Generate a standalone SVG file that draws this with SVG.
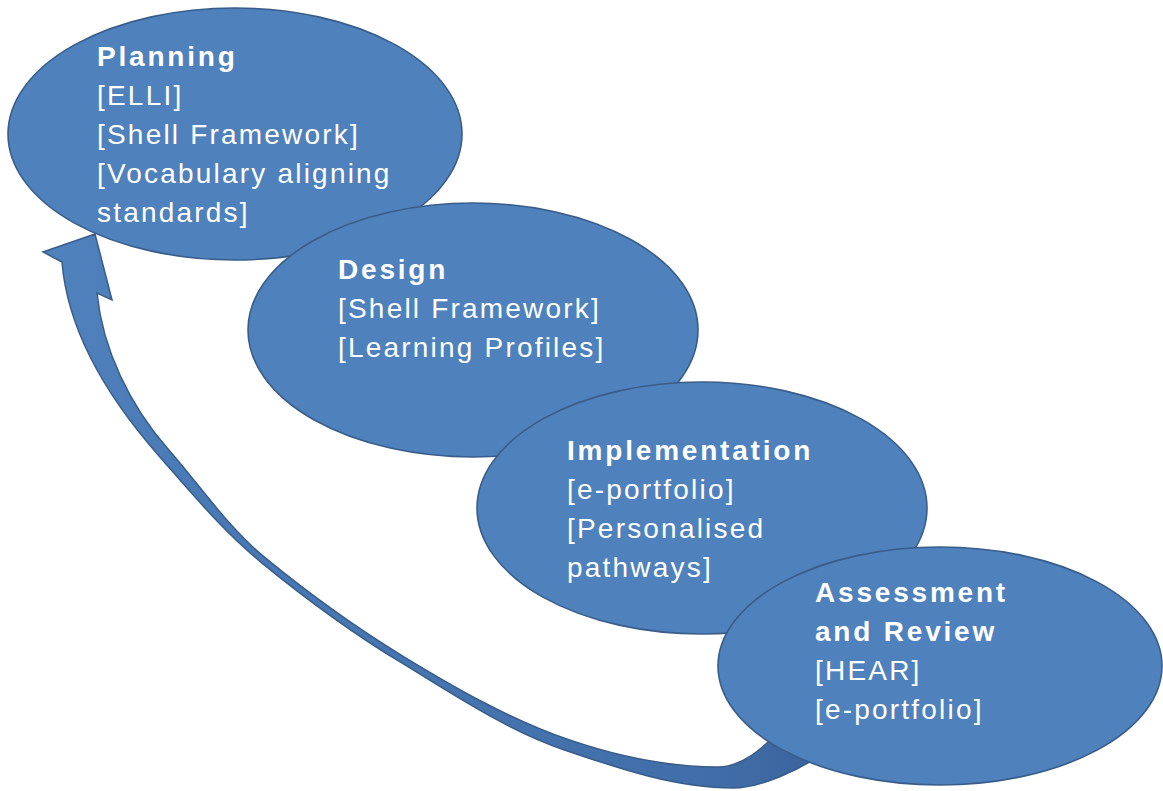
<svg xmlns="http://www.w3.org/2000/svg" width="1163" height="791" viewBox="0 0 1163 791">
  <style>
    .stage { fill: #4F81BD; stroke: #385D8A; stroke-width: 1.6; }
    .label { font-family: "Liberation Sans", Arial, sans-serif; font-size: 28px; letter-spacing: 2.2px; fill: #FFFFFF; }
    .title { font-weight: bold; letter-spacing: 2.8px; }
    .loop { stroke: #385D8A; stroke-width: 1.5; stroke-linejoin: miter; }
  </style>
  <defs>
    <linearGradient id="loopShade" gradientUnits="userSpaceOnUse" x1="60" y1="0" x2="830" y2="0">
      <stop offset="0" stop-color="#4F81BD"/>
      <stop offset="0.18" stop-color="#4A7AB6"/>
      <stop offset="0.55" stop-color="#4473AD"/>
      <stop offset="0.85" stop-color="#416EA8"/>
      <stop offset="1" stop-color="#3A629B"/>
    </linearGradient>
  </defs>
  <rect width="1163" height="791" fill="#FFFFFF"/>

  <!-- return loop from the last stage back up to Planning: arrowhead, inner edge down, outer edge back up -->
  <g id="connectors">
    <path class="loop" fill="url(#loopShade)" d="M62,262 L43,252 L95,234 L112,300 L97,293
      C102.7,350 130.4,406.2 168,449
      C199.7,485 227.8,527.3 265,557.7
      C309.1,593.8 356,627.8 404.7,657.3
      C456.9,688.9 511.1,720.1 568.8,739.8
      C616.1,756 668,767 718,767
      C745,767 765,745 790,722
      L825,752
      C800,770 760,788 733,788
      C676,788 619.1,768.6 565.2,750.2
      C506.5,730.2 454.3,694.8 401.3,662.7
      C352.6,633.2 305.2,598.4 261.1,562.3
      C223.2,531.3 191.5,493 159.2,456.2
      C111.7,402.2 67.8,334 62,262 Z"/>
  </g>

  <g id="planning">
    <ellipse class="stage" cx="235" cy="134" rx="227" ry="126"/>
    <text class="label">
      <tspan class="title" x="97" y="66">Planning</tspan>
      <tspan x="97" y="105">[ELLI]</tspan>
      <tspan x="97" y="144">[Shell Framework]</tspan>
      <tspan x="97" y="183">[Vocabulary aligning</tspan>
      <tspan x="97" y="222">standards]</tspan>
    </text>
  </g>

  <g id="design">
    <ellipse class="stage" cx="473" cy="330" rx="225" ry="127"/>
    <text class="label">
      <tspan class="title" x="338" y="279">Design</tspan>
      <tspan x="338" y="318">[Shell Framework]</tspan>
      <tspan x="338" y="357">[Learning Profiles]</tspan>
    </text>
  </g>

  <g id="implementation">
    <ellipse class="stage" cx="702" cy="508" rx="225" ry="126"/>
    <text class="label">
      <tspan class="title" x="567" y="460">Implementation</tspan>
      <tspan x="567" y="499">[e-portfolio]</tspan>
      <tspan x="567" y="538">[Personalised</tspan>
      <tspan x="567" y="577">pathways]</tspan>
    </text>
  </g>

  <g id="assessment">
    <ellipse class="stage" cx="940" cy="666" rx="222" ry="119"/>
    <text class="label">
      <tspan class="title" x="815" y="602">Assessment</tspan>
      <tspan class="title" x="815" y="641">and Review</tspan>
      <tspan x="815" y="680">[HEAR]</tspan>
      <tspan x="815" y="719">[e-portfolio]</tspan>
    </text>
  </g>
</svg>
